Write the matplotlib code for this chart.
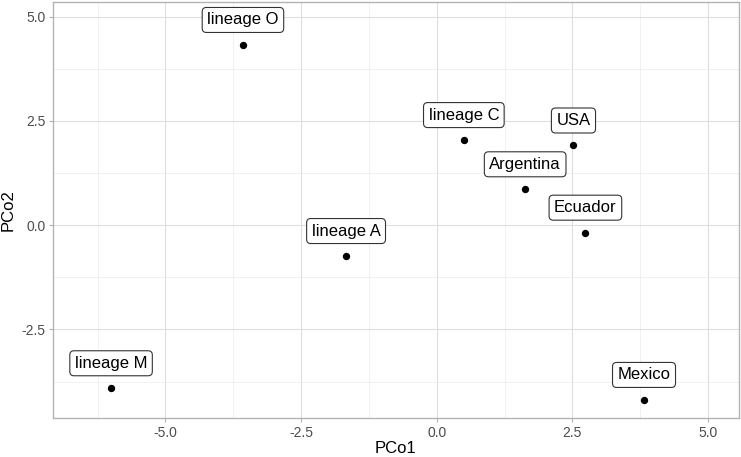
import matplotlib
matplotlib.use("Agg")
import matplotlib.pyplot as plt
import numpy as np

labels = ["lineage O", "lineage C", "USA", "Argentina", "Ecuador", "lineage A", "lineage M", "Mexico"]
pco1 = [-3.57, 0.50, 2.52, 1.63, 2.74, -1.67, -6.00, 3.82]
pco2 = [4.32, 2.04, 1.91, 0.86, -0.18, -0.74, -3.91, -4.19]

xticks = [-5.0, -2.5, 0.0, 2.5, 5.0]
yticks = [-2.5, 0.0, 2.5, 5.0]

plt.rcParams['font.family'] = ['Liberation Sans', 'DejaVu Sans']

fig = plt.figure(figsize=(7.41, 4.57), dpi=100)
ax = fig.add_axes([53/741, 1-418.3/457, (739-53)/741, (418.3-2)/457])

ax.set_xticks(xticks)
ax.set_yticks(yticks)
ax.set_xticklabels([f"{t:.1f}" for t in xticks])
ax.set_yticklabels([f"{t:.1f}" for t in yticks])
ax.set_xticks([t + 1.25 for t in [-7.5] + xticks], minor=True)
ax.set_yticks([t + 1.25 for t in [-5.0] + yticks], minor=True)

ax.set_xlim(-7.07, 5.57)
ax.set_ylim(-4.63, 5.35)

ax.grid(True, which='major', color='#DEDEDE', linewidth=0.8)
ax.grid(True, which='minor', color='#EBEBEB', linewidth=0.5)
ax.set_axisbelow(True)
for s in ax.spines.values():
    s.set_color('#B3B3B3')
    s.set_linewidth(1.0)

ax.tick_params(axis='both', which='major', length=3, color='#B3B3B3', labelsize=10,
               labelcolor='#4D4D4D', pad=2.5, width=0.8)
ax.tick_params(axis='both', which='minor', length=0)

ax.scatter(pco1, pco2, s=28, color='black', zorder=3, linewidths=0)

for lab, x, y in zip(labels, pco1, pco2):
    ax.annotate(lab, (x, y), xytext=(0, 18), textcoords='offset points',
                ha='center', va='center', fontsize=12, color='black', zorder=4,
                bbox=dict(boxstyle='round,pad=0.3,rounding_size=0.25', fc='white',
                          ec='#333333', lw=0.8))

ax.set_xlabel("PCo1", fontsize=12, color='black', labelpad=0.5)
ax.set_ylabel("PCo2", fontsize=12, color='black', labelpad=4)

fig.savefig("out.png", dpi=100)
